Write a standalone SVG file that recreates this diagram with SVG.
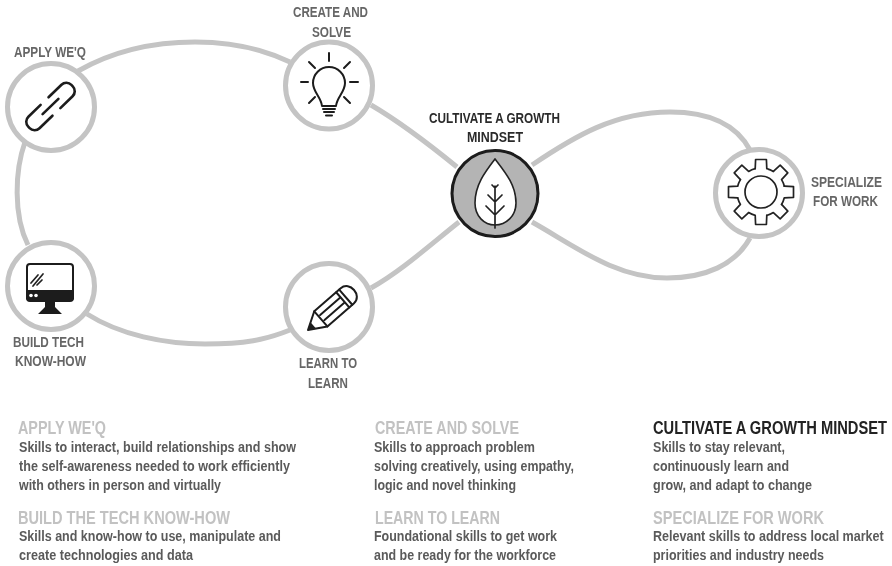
<svg xmlns="http://www.w3.org/2000/svg" width="892" height="566" viewBox="0 0 892 566" xmlns:xlink="http://www.w3.org/1999/xlink">
<style>
text{font-family:"Liberation Sans",Arial,sans-serif;font-weight:700}
.lbl{font-size:14.500px;fill:#666}
.dark{fill:#2a2a2a}
.hd{font-size:17.500px;fill:#c2c2c2}
.hdk{font-size:17.500px;fill:#222}
.bd{font-size:14.500px;fill:#5a5a5a}
.ring{fill:#fff;stroke:#c4c4c4;stroke-width:5}
.con{fill:none;stroke:#c4c4c4;stroke-width:5}
.ic{fill:none;stroke:#1c1c1c;stroke-width:2;stroke-linecap:round;stroke-linejoin:round}
.thin{fill:none;stroke:#222;stroke-width:1.700;stroke-linecap:round;stroke-linejoin:round}
</style>
<defs>
<filter id="soft" filterUnits="userSpaceOnUse" x="0" y="0" width="892" height="566"><feGaussianBlur stdDeviation="0.450"/></filter>
<path id="tooth" d="M-5.800-23.300L-5.400-32.500H5.400L5.800-23.300A24 24 0 0 1 12.400-20.600"/>
</defs>
<rect width="892" height="566" fill="#fff"/>
<g filter="url(#soft)">
<g id="connectors">
<path class="con" d="M78 71C115 50 155 42 195 42S265 50 290 62"/>
<path class="con" d="M25 142C15 170 13 215 28 245"/>
<path class="con" d="M87 314C120 335 165 344 205 344S265 340 290 330"/>
<path class="con" d="M371 288C400 272 430 245 459 222"/>
<path class="con" d="M371 105C400 122 430 145 457 167"/>
<path class="con" d="M532 165C575 136 615 112 670 112C705 112 735 122 750 150"/>
<path class="con" d="M532 222C575 246 615 278 667 278C705 278 735 265 750 238"/>
</g>
<g id="node-apply">
<circle class="ring" cx="51" cy="107" r="43.500"/>
<g class="ic" transform="translate(50.500 106.500) rotate(-44)" style="stroke-width:2.600">
<path d="M5-8H23a7 7 0 0 1 7 7V1a7 7 0 0 1-7 7H6"/>
<path d="M-5 8H-23a7 7 0 0 1-7-7V-1a7 7 0 0 1 7-7H-6"/>
<path d="M-11 0H11"/>
</g>
<text class="lbl" x="14" y="57" textLength="72" lengthAdjust="spacingAndGlyphs">APPLY WE'Q</text>
</g>
<g id="node-create">
<circle class="ring" cx="329" cy="85.500" r="43.500"/>
<path class="ic" d="M322 106C321 97 313 92 313 83A16 16 0 0 1 345 83C345 92 337 97 336 106Z"/>
<path class="ic" d="M323 109H335M324 112H334M326 115.500H332M329 53V61M301 82H308M350 82H358M309 62L315 68M350 62L344 68M315 97L309 103M344 97L350 103"/>
<text class="lbl" x="293" y="17" textLength="75" lengthAdjust="spacingAndGlyphs">CREATE AND</text>
<text class="lbl" x="312" y="37" textLength="39" lengthAdjust="spacingAndGlyphs">SOLVE</text>
</g>
<g id="node-build">
<circle class="ring" cx="51" cy="286" r="43.500"/>
<rect class="ic" x="27" y="264" width="46" height="36" rx="3"/>
<path fill="#1c1c1c" d="M26 290H74V298A4 4 0 0 1 70 302H30A4 4 0 0 1 26 298ZM45 302H55V307L62 314H38L45 307Z"/>
<circle cx="31" cy="295.500" r="1.800" fill="#fff"/>
<circle cx="36" cy="295.500" r="1.800" fill="#fff"/>
<path class="thin" d="M31 283L38 275M33 286L43 274M37 285L42 280"/>
<text class="lbl" x="13" y="347" textLength="71" lengthAdjust="spacingAndGlyphs">BUILD TECH</text>
<text class="lbl" x="15" y="366" textLength="71" lengthAdjust="spacingAndGlyphs">KNOW-HOW</text>
</g>
<g id="node-learn">
<circle class="ring" cx="329" cy="307" r="43.500"/>
<g transform="translate(308 330) rotate(-41)">
<path class="ic" d="M0 0L17-10H52C58-10 61-5 61 0S58 10 52 10H17Z"/>
<path fill="#1c1c1c" d="M0 0L7-4.500V4.500Z"/>
<path class="ic" d="M17-10V10M19-3.300H46M19 3.300H46M46-10V10M50-10V10"/>
</g>
<text class="lbl" x="299" y="368" textLength="58" lengthAdjust="spacingAndGlyphs">LEARN TO</text>
<text class="lbl" x="308" y="388" textLength="40" lengthAdjust="spacingAndGlyphs">LEARN</text>
</g>
<g id="node-cultivate">
<circle cx="495" cy="193.500" r="43" fill="#b4b4b4" stroke="#1a1a1a" stroke-width="3"/>
<path d="M495 159C485 172 475 185 475 203C475 216 484 225 495 225C506 225 516 216 516 203C516 185 505 172 495 159Z" fill="#fff" stroke="#222" stroke-width="1.600"/>
<path class="thin" d="M495 186V228M492 185L495 188L498 185M488 195L495 202L502 195M486 206L495 215L504 206"/>
<text class="lbl dark" x="429" y="123" textLength="131" lengthAdjust="spacingAndGlyphs">CULTIVATE A GROWTH</text>
<text class="lbl dark" x="467" y="142" textLength="56" lengthAdjust="spacingAndGlyphs">MINDSET</text>
</g>
<g id="node-specialize">
<circle class="ring" cx="759" cy="193" r="43.500"/>
<g class="thin" transform="translate(761 192)">
<circle r="16"/>
<use xlink:href="#tooth" href="#tooth"/>
<use xlink:href="#tooth" href="#tooth" transform="rotate(45)"/>
<use xlink:href="#tooth" href="#tooth" transform="rotate(90)"/>
<use xlink:href="#tooth" href="#tooth" transform="rotate(135)"/>
<use xlink:href="#tooth" href="#tooth" transform="rotate(180)"/>
<use xlink:href="#tooth" href="#tooth" transform="rotate(225)"/>
<use xlink:href="#tooth" href="#tooth" transform="rotate(270)"/>
<use xlink:href="#tooth" href="#tooth" transform="rotate(315)"/>
</g>
<text class="lbl" transform="translate(811 187) scale(.831 1)">SPECIALIZE</text>
<text class="lbl" x="813" y="206" textLength="65" lengthAdjust="spacingAndGlyphs">FOR WORK</text>
</g>
<g id="legend">
<text class="hd" x="18" y="434" textLength="88" lengthAdjust="spacingAndGlyphs">APPLY WE'Q</text>
<text class="bd" x="19" y="452" textLength="277" lengthAdjust="spacingAndGlyphs">Skills to interact, build relationships and show</text>
<text class="bd" x="19" y="471" textLength="271" lengthAdjust="spacingAndGlyphs">the self-awareness needed to work efficiently</text>
<text class="bd" x="19" y="490" textLength="202" lengthAdjust="spacingAndGlyphs">with others in person and virtually</text>
<text class="hd" x="18" y="524" textLength="212" lengthAdjust="spacingAndGlyphs">BUILD THE TECH KNOW-HOW</text>
<text class="bd" x="19" y="541" textLength="262" lengthAdjust="spacingAndGlyphs">Skills and know-how to use, manipulate and</text>
<text class="bd" x="19" y="560" textLength="174" lengthAdjust="spacingAndGlyphs">create technologies and data</text>
<text class="hd" x="375" y="434" textLength="144" lengthAdjust="spacingAndGlyphs">CREATE AND SOLVE</text>
<text class="bd" x="374" y="452" textLength="161" lengthAdjust="spacingAndGlyphs">Skills to approach problem</text>
<text class="bd" x="374" y="471" textLength="200" lengthAdjust="spacingAndGlyphs">solving creatively, using empathy,</text>
<text class="bd" x="374" y="490" textLength="142" lengthAdjust="spacingAndGlyphs">logic and novel thinking</text>
<text class="hd" x="375" y="524" textLength="125" lengthAdjust="spacingAndGlyphs">LEARN TO LEARN</text>
<text class="bd" x="374" y="541" textLength="183" lengthAdjust="spacingAndGlyphs">Foundational skills to get work</text>
<text class="bd" x="374" y="560" textLength="182" lengthAdjust="spacingAndGlyphs">and be ready for the workforce</text>
<text class="hdk" transform="translate(653 434) scale(.84 1)">CULTIVATE A GROWTH MINDSET</text>
<text class="bd" x="653" y="452" textLength="132" lengthAdjust="spacingAndGlyphs">Skills to stay relevant,</text>
<text class="bd" x="653" y="471" textLength="136" lengthAdjust="spacingAndGlyphs">continuously learn and</text>
<text class="bd" x="653" y="490" textLength="159" lengthAdjust="spacingAndGlyphs">grow, and adapt to change</text>
<text class="hd" x="653" y="524" textLength="171" lengthAdjust="spacingAndGlyphs">SPECIALIZE FOR WORK</text>
<text class="bd" transform="translate(653 541) scale(.866 1)">Relevant skills to address local market</text>
<text class="bd" x="653" y="560" textLength="171" lengthAdjust="spacingAndGlyphs">priorities and industry needs</text>
</g>
</g>
</svg>
